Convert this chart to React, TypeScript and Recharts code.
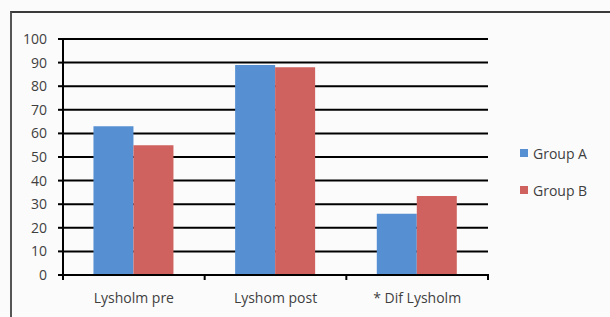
import { BarChart, Bar, XAxis, YAxis, CartesianGrid } from 'recharts'

// categories and series
const categories = ['Lysholm pre', 'Lyshom post', '* Dif Lysholm']
const groupA = [63, 89, 26]
const groupB = [55, 88, 33.5]
const yTicks = [0, 10, 20, 30, 40, 50, 60, 70, 80, 90, 100]
const seriesNames = ['Group A', 'Group B']
const seriesColors = ['#5690d2', '#cf625f']

const data = categories.map((name, i) => ({ name, a: groupA[i], b: groupB[i] }))

const W = 610
const H = 317
const M = { top: 39, right: 122, bottom: 0, left: 0 }
const Y_W = 63
const BAND = (W - Y_W - M.right) / categories.length
const TEXT = '#3f3f3f'
const FONT = '"Open Sans", sans-serif'

// tick marks sit on the category boundaries, labels in the middle
function CatTick(props: any) {
  const { x, y, payload, index } = props
  const half = BAND / 2
  return (
    <g>
      <line x1={x - half} x2={x - half} y1={y - 1} y2={y + 5} stroke="#000" strokeWidth={2} />
      {index === categories.length - 1 && (
        <line x1={x + half} x2={x + half} y1={y - 1} y2={y + 5} stroke="#000" strokeWidth={2} />
      )}
      <text x={x} y={y + 28} textAnchor="middle" fill={TEXT} fontSize={14} fontFamily={FONT}>
        {payload.value}
      </text>
    </g>
  )
}

export default function App() {
  return (
    <div style={{ position: 'absolute', left: 0, top: 0, width: W, height: H, background: '#fbfbfb', overflow: 'hidden' }}>
      <div style={{ position: 'absolute', left: 10, top: 11, right: -4, bottom: -4, borderTop: '2px solid #3a3a3a', borderLeft: '2px solid #555' }} />
      <BarChart width={W} height={H} data={data} margin={M} barCategoryGap="21.5%" barGap={0}
        style={{ position: 'absolute', left: 0, top: 0 }}>
        <CartesianGrid vertical={false} stroke="#000" strokeWidth={2} />
        <XAxis dataKey="name" height={42} axisLine={{ stroke: '#000', strokeWidth: 2 }}
          tickLine={false} tickSize={0} tickMargin={0} tick={<CatTick />} interval={0} />
        <YAxis width={Y_W} domain={[0, 100]} ticks={yTicks} interval={0}
          axisLine={{ stroke: '#000', strokeWidth: 2 }} tickLine={{ stroke: '#000', strokeWidth: 2 }}
          tickSize={5} tickMargin={11}
          tick={{ fill: TEXT, fontSize: 14, fontFamily: FONT }} />
        <Bar dataKey="a" name={seriesNames[0]} fill={seriesColors[0]} isAnimationActive={false} />
        <Bar dataKey="b" name={seriesNames[1]} fill={seriesColors[1]} isAnimationActive={false} />
      </BarChart>
      <div style={{ position: 'absolute', left: 520, top: 143, fontFamily: FONT, fontSize: 14, color: TEXT }}>
        {seriesNames.map((n, i) => (
          <div key={n} style={{ display: 'flex', alignItems: 'center', height: 20, marginBottom: 17 }}>
            <span style={{ width: 8, height: 8, background: seriesColors[i], marginRight: 5, display: 'inline-block' }} />
            {n}
          </div>
        ))}
      </div>
    </div>
  )
}
